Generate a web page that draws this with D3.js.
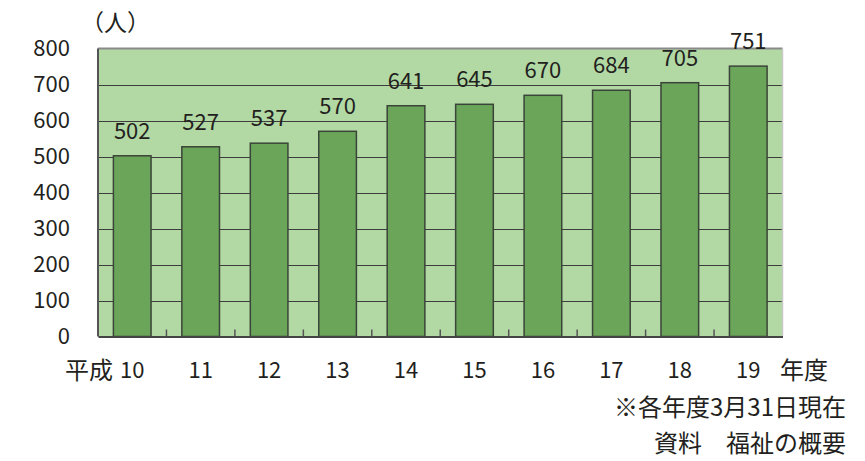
<!DOCTYPE html>
<html>
<head>
<meta charset="utf-8">
<script src="https://cdn.jsdelivr.net/npm/d3@7"></script>
<style>
  html, body { margin: 0; padding: 0; background: #fff; }
  svg { display: block; }
  text { font-family: "Noto Sans CJK JP", "Noto Sans", sans-serif; fill: #231f20; }
</style>
</head>
<body>
<svg id="chart" width="865" height="461"></svg>
<script>
// 年度（平成）と各年度末の人数
const years = ["10", "11", "12", "13", "14", "15", "16", "17", "18", "19"];
const counts = [502, 527, 537, 570, 641, 645, 670, 684, 705, 751];
const yTicks = [0, 100, 200, 300, 400, 500, 600, 700, 800];

const svg = d3.select("#chart");
const plot = { left: 98, right: 782.5, top: 48.5, bottom: 336.5 };
const numSize = 22;   // 数字の文字サイズ
const jaSize = 24;    // 漢字・かなの文字サイズ

const x = d3.scaleBand()
  .domain(years)
  .range([plot.left, plot.right])
  .paddingInner(0.45)
  .paddingOuter(0.225);

const y = d3.scaleLinear()
  .domain([0, 800])
  .range([plot.bottom, plot.top]);

// 背景
svg.append("rect")
  .attr("x", plot.left).attr("y", plot.top)
  .attr("width", plot.right - plot.left)
  .attr("height", plot.bottom - plot.top)
  .attr("fill", "#b2d9a4");

// 目盛線
svg.append("g")
  .selectAll("line")
  .data(yTicks.filter(d => d > 0 && d < 800))
  .join("line")
  .attr("x1", plot.left).attr("x2", plot.right)
  .attr("y1", d => Math.round(y(d)) + 0.5)
  .attr("y2", d => Math.round(y(d)) + 0.5)
  .attr("stroke", "#3d3d3d").attr("stroke-width", 1.2);

// 枠線
svg.append("line")
  .attr("x1", plot.left).attr("x2", plot.right)
  .attr("y1", plot.top).attr("y2", plot.top)
  .attr("stroke", "#8a8a8a").attr("stroke-width", 2);
svg.append("line")
  .attr("x1", plot.right).attr("x2", plot.right)
  .attr("y1", plot.top).attr("y2", plot.bottom)
  .attr("stroke", "#c8c8c8").attr("stroke-width", 1.5);
svg.append("line")
  .attr("x1", plot.left).attr("x2", plot.left)
  .attr("y1", plot.top).attr("y2", plot.bottom)
  .attr("stroke", "#555").attr("stroke-width", 2);

// 棒
svg.append("g")
  .selectAll("rect")
  .data(years)
  .join("rect")
  .attr("x", d => x(d))
  .attr("y", (d, i) => y(counts[i]))
  .attr("width", x.bandwidth())
  .attr("height", (d, i) => plot.bottom - y(counts[i]))
  .attr("fill", "#6aa55a")
  .attr("stroke", "#3b4438")
  .attr("stroke-width", 1.5);

// X軸（目盛は内向き）
const xAxis = d3.axisBottom(x).tickSize(0).tickFormat("");
svg.append("g")
  .attr("transform", `translate(0,${plot.bottom})`)
  .call(xAxis)
  .call(g => g.select(".domain").attr("stroke", "#444").attr("stroke-width", 2));

const step = x.step();
svg.append("g")
  .selectAll("line")
  .data(years.slice(1))
  .join("line")
  .attr("x1", d => x(d) - x.paddingInner() * step / 2)
  .attr("x2", d => x(d) - x.paddingInner() * step / 2)
  .attr("y1", plot.bottom)
  .attr("y2", plot.bottom - 7)
  .attr("stroke", "#555").attr("stroke-width", 1.5);

// Y軸ラベル
svg.append("g")
  .selectAll("text")
  .data(yTicks)
  .join("text")
  .attr("x", 70)
  .attr("y", d => y(d))
  .attr("dy", "0.36em")
  .attr("text-anchor", "end")
  .attr("font-size", numSize)
  .text(d => d);

// 単位
svg.append("text")
  .attr("x", 81).attr("y", 31)
  .attr("font-size", 23)
  .text("（人）");

// 値ラベル
svg.append("g")
  .selectAll("text")
  .data(years)
  .join("text")
  .attr("x", d => x(d) + x.bandwidth() / 2)
  .attr("y", (d, i) => y(counts[i]) - 17)
  .attr("text-anchor", "middle")
  .attr("font-size", numSize)
  .text((d, i) => counts[i]);

// 年度ラベル
svg.append("g")
  .selectAll("text")
  .data(years)
  .join("text")
  .attr("x", d => x(d) + x.bandwidth() / 2)
  .attr("y", 378)
  .attr("text-anchor", "middle")
  .attr("font-size", numSize)
  .text(d => d);

svg.append("text")
  .attr("x", 113).attr("y", 379)
  .attr("text-anchor", "end")
  .attr("font-size", jaSize)
  .text("平成");

svg.append("text")
  .attr("x", 780).attr("y", 379)
  .attr("font-size", jaSize)
  .text("年度");

// 注記・出典
svg.append("text")
  .attr("x", 846).attr("y", 416)
  .attr("text-anchor", "end")
  .attr("font-size", jaSize)
  .text("※各年度3月31日現在");

svg.append("text")
  .attr("x", 846).attr("y", 452)
  .attr("text-anchor", "end")
  .attr("font-size", jaSize)
  .text("資料　福祉の概要");
</script>
</body>
</html>
